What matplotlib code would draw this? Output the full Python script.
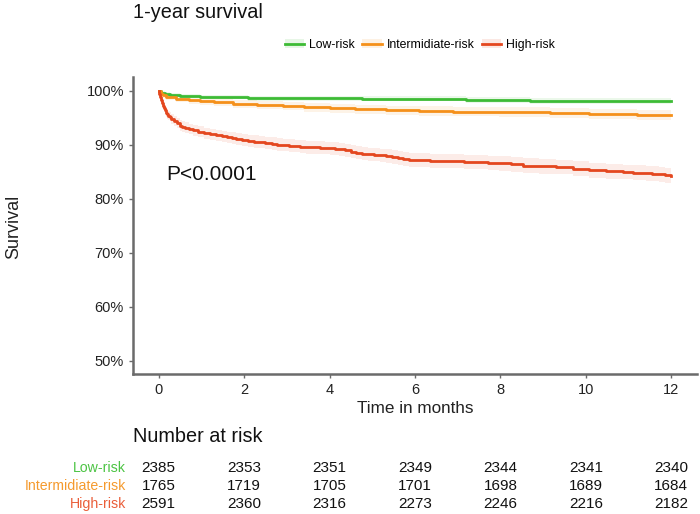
import matplotlib
matplotlib.use("Agg")
import matplotlib.pyplot as plt
import numpy as np
from matplotlib.lines import Line2D
from matplotlib.patches import Patch

plt.rcParams['font.family'] = ['Liberation Sans', 'DejaVu Sans']

groups = ["Low-risk", "Intermidiate-risk", "High-risk"]
line_colors = ["#3DBB35", "#F5901A", "#E4471F"]
band_colors = ["#3DBB35", "#F5901A", "#E4471F"]
label_colors = ["#4CC444", "#F59A2E", "#EA5E3A"]

# Kaplan-Meier curves (time in months, survival %)
low_t = [0, 0.05, 0.15, 0.26, 0.5, 0.96, 2.1, 4.77, 7.2, 8.7, 12]
low_s = [100, 99.6, 99.3, 99.1, 98.95, 98.8, 98.6, 98.5, 98.25, 98.1, 98.1]

mid_t = [0, 0.05, 0.1, 0.18, 0.41, 0.7, 0.96, 1.3, 1.74, 2.3, 2.91, 3.4, 4.0, 4.6, 5.32, 6.1, 6.9, 7.97,
         9.15, 10.08, 11.2, 12]
mid_s = [100, 99.4, 99.1, 98.8, 98.4, 98.2, 98.05, 97.8, 97.55, 97.3, 97.1, 96.9, 96.7, 96.5, 96.3, 96.2,
         96.1, 96.0, 95.85, 95.65, 95.5, 95.4]

high_t = [0, 0.02, 0.04, 0.06, 0.08, 0.1, 0.13, 0.15, 0.18, 0.2, 0.23, 0.26, 0.3, 0.35, 0.42, 0.49, 0.55,
          0.62, 0.7, 0.8, 0.92, 1.05, 1.2, 1.35, 1.48, 1.6, 1.72, 1.82, 1.95, 2.1, 2.23,
          2.36, 2.5, 2.65, 2.78, 2.91, 3.05, 3.2, 3.32, 3.45, 3.6, 3.77, 3.9, 4.0, 4.12, 4.23, 4.37, 4.5,
          4.63, 4.77, 4.9, 5.05, 5.18, 5.32, 5.45, 5.6, 5.73, 5.87, 6.1, 6.34, 6.6,
          6.88, 7.15, 7.42, 7.7, 7.97, 8.25, 8.52, 8.9, 9.3, 9.7, 10.08, 10.47, 10.86, 11.1, 11.4, 11.55,
          11.7, 11.85, 12]
high_s = [100, 99.3, 98.8, 98.2, 97.7, 97.2, 96.7, 96.3, 95.9, 95.6, 95.35, 95.1, 94.7, 94.3, 93.9, 93.5, 93.3,
          93.1, 92.85, 92.6, 92.35, 92.1, 91.9, 91.7, 91.5, 91.3, 91.15, 91.0, 90.85, 90.7, 90.55,
          90.4, 90.3, 90.15, 90.0, 89.9, 89.8, 89.7, 89.6, 89.5, 89.45, 89.4, 89.35, 89.3, 89.2, 89.1, 88.9, 88.7,
          88.5, 88.3, 88.2, 88.1, 88.0, 87.9, 87.7, 87.5, 87.35, 87.2, 87.1, 87.0, 86.95,
          86.9, 86.8, 86.7, 86.6, 86.5, 86.3, 86.1, 85.95, 85.8, 85.5, 85.2, 85.05, 84.9, 84.8, 84.7, 84.6,
          84.45, 84.3, 84.1]

curves_t = [low_t, mid_t, high_t]
curves_s = [low_s, mid_s, high_s]

# Number at risk table
risk_times = [0, 2, 4, 6, 8, 10, 12]
low_risk_n = [2385, 2353, 2351, 2349, 2344, 2341, 2340]
mid_risk_n = [1765, 1719, 1705, 1701, 1698, 1689, 1684]
high_risk_n = [2591, 2360, 2316, 2273, 2246, 2216, 2182]
risk_n = [low_risk_n, mid_risk_n, high_risk_n]

y_ticks = [50, 60, 70, 80, 90, 100]
x_ticks = [0, 2, 4, 6, 8, 10, 12]

W, H = 700, 514
fig = plt.figure(figsize=(7.0, 5.14), dpi=100)

ax = fig.add_axes([133 / W, 1 - 374 / H, (697 - 133) / W, (374 - 77) / H])
for t, s, lc, bc, n in zip(curves_t, curves_s, line_colors, band_colors, risk_n):
    t = np.array(t, dtype=float)
    s = np.array(s, dtype=float)
    p = s / 100.0
    half = 1.96 * np.sqrt(p * (1 - p) / n[0]) * 100
    ax.fill_between(t, s - half, s + half, step='post', color=bc, alpha=0.10, lw=0)
    ax.step(t, s, where='post', color=lc, lw=2.0)

ax.set_xlim(-0.6, 12.6)
ax.set_ylim(47.5, 102.5)
ax.set_yticks(y_ticks)
ax.set_yticklabels([f"{v}%" for v in y_ticks])
ax.set_xticks(x_ticks)
for sp in ['top', 'right']:
    ax.spines[sp].set_visible(False)
for sp in ['left', 'bottom']:
    ax.spines[sp].set_color('#6b6b6b')
    ax.spines[sp].set_linewidth(1.8)
ax.tick_params(axis='both', colors='#6b6b6b', labelcolor='#222222', labelsize=10.5,
               length=3, width=1)
ax.set_xlabel("Time in months", fontsize=12.3, color='#222222', labelpad=3)
ax.set_ylabel("Survival", fontsize=13, color='#222222')
ax.yaxis.set_label_coords(-0.197, 0.495)
ax.text(0.17, 84.5, "P<0.0001", fontsize=15, color='#111111', va='center', ha='left')

fig.text(133 / W, 1 - 12 / H, "1-year survival", fontsize=14.3, color='#111111', va='center', ha='left')

handles = [(Patch(facecolor=bc, alpha=0.12, edgecolor='none'), Line2D([], [], color=lc, lw=2))
           for lc, bc in zip(line_colors, band_colors)]
fig.legend(handles, groups, loc='center', bbox_to_anchor=(420 / W, 1 - 45 / H), ncol=3,
           frameon=False, fontsize=8.8, handlelength=1.6, handletextpad=0.4, columnspacing=0.6)

# risk table
fig.text(133 / W, 1 - 437 / H, "Number at risk", fontsize=14.3, color='#111111', va='center', ha='left')
tab = fig.add_axes([133 / W, 1 - 514 / H, (697 - 133) / W, (514 - 458) / H])
tab.set_xlim(-0.6, 12.6)
tab.set_ylim(0, 3)
tab.axis('off')
row_px = [468, 486, 504]
for g, ns, col, yp in zip(groups, risk_n, label_colors, row_px):
    yy = (514 - yp) / (514 - 458) * 3
    fig.text(126 / W, 1 - yp / H, g, color=col, fontsize=10.2, ha='right', va='center')
    for tt, nn in zip(risk_times, ns):
        tab.text(tt, yy, str(nn), color='#111111', fontsize=11, ha='center', va='center')

fig.savefig("out.png", dpi=100)
